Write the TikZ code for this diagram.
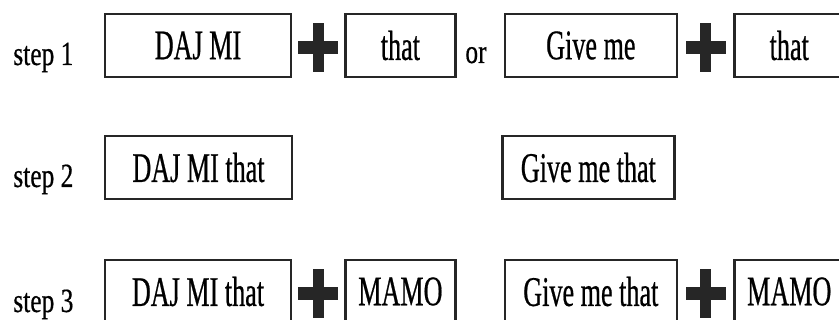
\documentclass[tikz,border=0pt]{standalone}
\usepackage{fontspec}
\setmainfont{Liberation Serif}[FakeStretch=0.62, FakeBold=0.5]
\newfontfamily\lblfont{Liberation Serif}[FakeStretch=0.75, FakeBold=0.5]
\usepackage{tikz}
\usetikzlibrary{positioning, calc}

\begin{document}
\begin{tikzpicture}[x=0.02cm, y=-0.02cm,
			wordbox/.style={draw=black!85, line width=1.4pt, minimum height=1.26cm,
				inner sep=0pt, align=center, font=\fontsize{24}{28}\selectfont},
			stepl/.style={inner sep=0pt, font=\lblfont\fontsize{19.3}{22}\selectfont},
			plush/.style={fill=black!85, minimum width=0.8cm, minimum height=0.26cm,
				inner sep=0pt, yshift=-0.04cm},
			plusv/.style={fill=black!85, minimum width=0.22cm, minimum height=0.98cm,
				inner sep=0pt, yshift=-0.04cm}
			]
			\useasboundingbox (0,0) rectangle (839,320);
			
			% step 1
			\node[stepl, anchor=base west] (step1) at (13,65) {step 1};
			\node[wordbox, minimum width=3.72cm] (daj1) at (198,45.5) {DAJ MI};
			\node[wordbox, minimum width=2.2cm, right=1.04cm of daj1] (that1) {that};
			\node[stepl, anchor=base] (or) at (476,63) {or};
			\node[wordbox, minimum width=3.44cm, right=0.94cm of that1] (give1) {Give me};
			\node[wordbox, minimum width=2.2cm, right=1.1cm of give1] (that2) {that};
			
			% step 2
			\node[stepl, anchor=base west] (step2) at (13,187) {step 2};
			\node[wordbox, minimum width=3.74cm] (daj2) at (198.5,167.5) {DAJ MI that};
			\node[wordbox, minimum width=3.44cm, right=4.16cm of daj2] (give2) {Give me that};
			
			% step 3
			\node[stepl, anchor=base west] (step3) at (13,312) {step 3};
			\node[wordbox, minimum width=3.72cm] (daj3) at (198,291.5) {DAJ MI that};
			\node[wordbox, minimum width=2.2cm, right=1.04cm of daj3] (mamo1) {MAMO};
			\node[wordbox, minimum width=3.44cm, right=0.94cm of mamo1] (give3) {Give me that};
			\node[wordbox, minimum width=2.2cm, right=1.1cm of give3] (mamo2) {MAMO};
			
			% plus signs
			\foreach \a/\b in {daj1/that1, give1/that2, daj3/mamo1, give3/mamo2} {
				\node[plush] (\a-ph) at ($(\a.east)!0.5!(\b.west)$) {};
				\node[plusv] (\a-pv) at ($(\a.east)!0.5!(\b.west)$) {};
			}
\end{tikzpicture}
\end{document}
